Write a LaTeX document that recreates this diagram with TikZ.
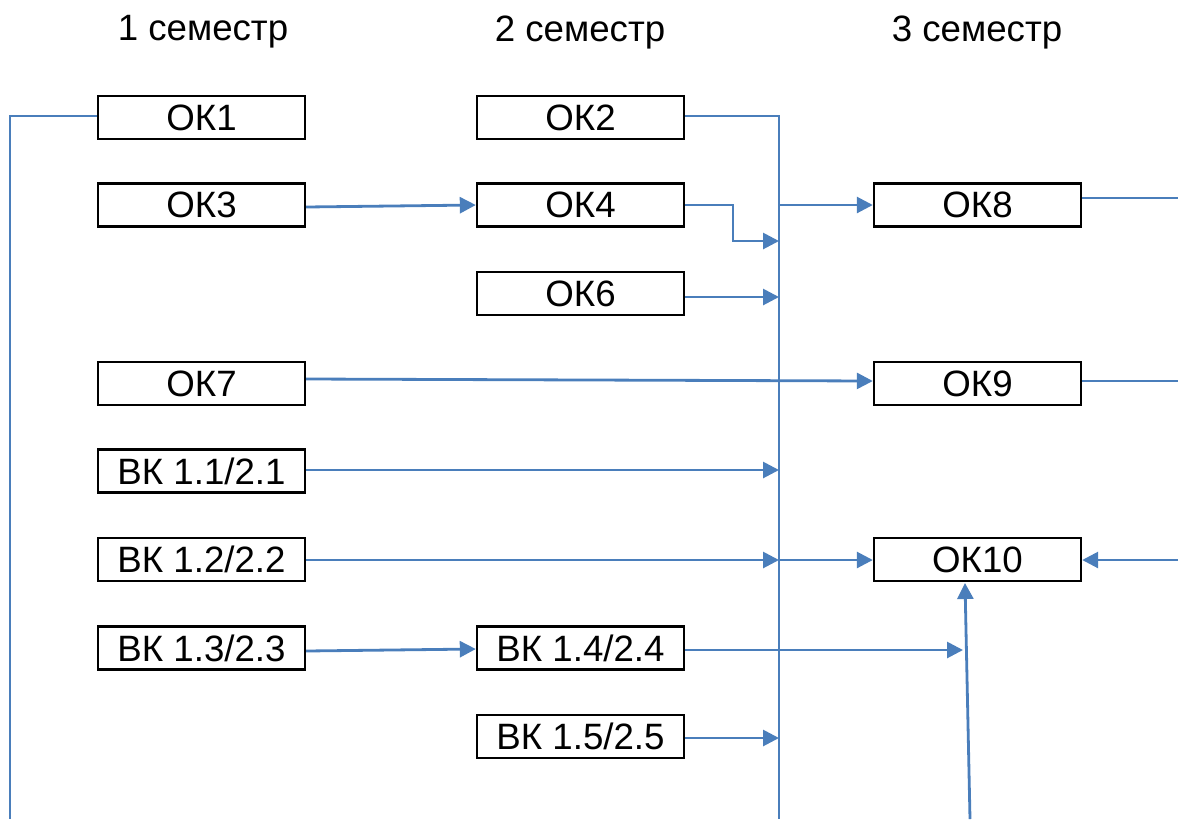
\documentclass[tikz,border=0pt]{standalone}
\usepackage{fontspec}
\setmainfont{Liberation Sans}
\usetikzlibrary{arrows.meta}
\definecolor{lblue}{HTML}{4A7EBB}
\begin{document}
\begin{tikzpicture}[x=0.75pt,y=-0.75pt,
  box/.style={draw=black,line width=1.8pt,minimum width=207*0.75pt,minimum height=43*0.75pt,inner sep=0pt,font=\fontsize{27.5}{32}\selectfont},
  hdr/.style={font=\fontsize{27.5}{32}\selectfont,inner sep=0pt},
  con/.style={draw=lblue,line width=2.1pt},
  arr/.style={con,-{Triangle[length=16*0.75pt,width=16*0.75pt]}}]
\useasboundingbox (0,0) rectangle (1178,819);
% headers
\node[hdr] (h1) at (203,32) {1 семестр};
\node[hdr] (h2) at (580,32) {2 семестр};
\node[hdr] (h3) at (977,32) {3 семестр};
% boxes
\node[box] (ok1) at (201.5,117.5) {ОК1};
\node[box] (ok2) at (580.5,117.5) {ОК2};
\node[box] (ok3) at (201.5,205) {ОК3};
\node[box] (ok4) at (580.5,205) {ОК4};
\node[box] (ok8) at (977.5,205) {ОК8};
\node[box] (ok6) at (580.5,293.5) {ОК6};
\node[box] (ok7) at (201.5,383.5) {ОК7};
\node[box] (ok9) at (977.5,383.5) {ОК9};
\node[box] (vk11) at (201.5,471) {ВК 1.1/2.1};
\node[box] (vk12) at (201.5,559.5) {ВК 1.2/2.2};
\node[box] (ok10) at (977.5,559.5) {ОК10};
\node[box] (vk13) at (201.5,648) {ВК 1.3/2.3};
\node[box] (vk14) at (580.5,648) {ВК 1.4/2.4};
\node[box] (vk15) at (580.5,736.5) {ВК 1.5/2.5};
% coordinates
\coordinate (leftBot) at (10,819);
\coordinate (leftTop) at (10,116);
\coordinate (busTop) at (779,116);
\coordinate (busBot) at (779,819);
\coordinate (k1) at (733,205);
\coordinate (k2) at (733,241);
\coordinate (k3) at (779,241);
\coordinate (r8) at (1178,198);
\coordinate (r9) at (1178,381);
\coordinate (r10) at (1178,560);
\coordinate (b10) at (970,819);
\coordinate (t10) at (965,583);
\coordinate (p14) at (963,650);
% connectors
\draw[con] (ok1.west |- leftTop) -- (leftTop) -- (leftBot);
\draw[con] (ok2.east |- busTop) -- (busTop) -- (busBot);
\draw[arr] (ok3.east |- 0,207) -- (ok4.west |- 0,205);
\draw[arr] (ok4.east) -- (k1) -- (k2) -- (k3);
\draw[arr] (busTop |- ok8) -- (ok8.west);
\draw[con] (ok8.east |- r8) -- (r8);
\draw[arr] (ok6.east |- 0,297) -- (busTop |- 0,297);
\draw[arr] (ok7.east |- 0,379) -- (ok9.west |- 0,381);
\draw[con] (ok9.east |- r9) -- (r9);
\draw[arr] (vk11.east |- 0,470) -- (busTop |- 0,470);
\draw[arr] (vk12.east |- 0,560) -- (busTop |- 0,560);
\draw[arr] (busTop |- 0,560) -- (ok10.west |- 0,560);
\draw[arr] (r10) -- (ok10.east |- r10);
\draw[arr] (vk13.east |- 0,651) -- (vk14.west |- 0,649);
\draw[arr] (vk14.east |- p14) -- (p14);
\draw[arr] (b10) -- (t10);
\draw[arr] (vk15.east |- 0,738) -- (busTop |- 0,738);
\end{tikzpicture}
\end{document}
